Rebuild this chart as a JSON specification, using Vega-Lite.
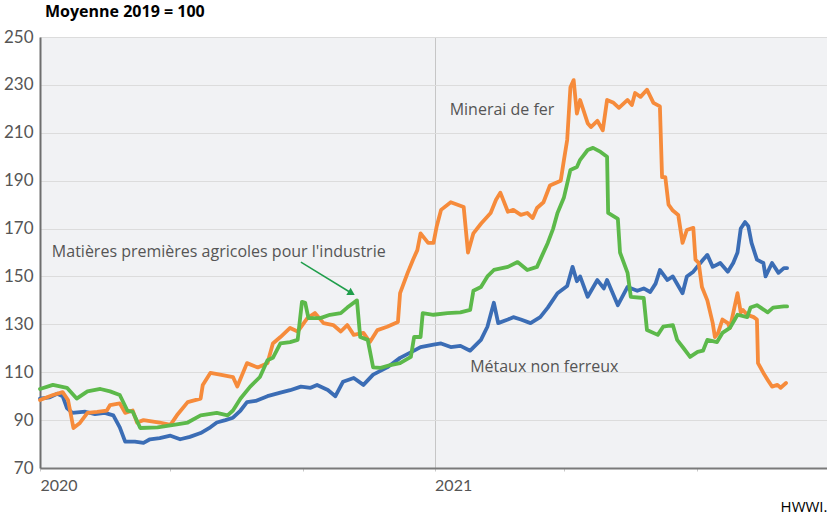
{
  "$schema": "https://vega.github.io/schema/vega-lite/v6.json",
  "width": 787,
  "height": 431,
  "autosize": "none",
  "padding": {"left": 40, "top": 37, "right": 0, "bottom": 50},
  "title": {"text": "Moyenne 2019 = 100", "anchor": "start", "frame": "group", "dx": 5, "offset": 8, "fontSize": 16, "fontWeight": "bold", "color": "#000", "font": "Open Sans"},
  "config": {"view": {"fill": "#f1f2f4", "stroke": null}, "font": "Lato"},
  "encoding": {
    "x": {"field": "d", "type": "temporal",
      "scale": {"type": "utc", "domain": [{"year": 2020, "month": 1, "date": 1, "utc": true}, {"year": 2021, "month": 12, "date": 31, "utc": true}]},
      "axis": {"title": "HWWI.", "titleAnchor": "end", "titleFont": "Open Sans", "titleFontSize": 15, "titleFontWeight": "normal", "titleColor": "#000", "titlePadding": 6,
        "tickCount": {"interval": "month", "step": 4},
        "labelExpr": "utcmonth(datum.value) == 0 ? utcFormat(datum.value, '%Y') : ''",
        "labelAlign": "left", "labelFontSize": 16, "labelColor": "#555", "labelPadding": 6, "labelFlush": false,
        "domainColor": "#7a7a7a", "domainWidth": 2, "tickSize": 3, "tickColor": "#c8c8c8",
        "grid": true, "gridColor": "#c6c6c6", "gridWidth": 1,
        "gridOpacity": {"condition": {"test": "utcmonth(datum.value) == 0", "value": 1}, "value": 0}}},
    "y": {"field": "v", "type": "quantitative",
      "scale": {"domain": [70, 250], "nice": false, "zero": false},
      "axis": {"title": null, "values": [70, 90, 110, 130, 150, 170, 190, 210, 230, 250], "labelFontSize": 17, "labelColor": "#555", "labelPadding": 7,
        "ticks": false, "domainColor": "#6e6e6e", "domainWidth": 2, "gridColor": "#dcdcdc", "gridWidth": 1}}
  },
  "layer": [
    {
      "data": {"values": [
        {"d":"2020-01-01","s":"M","v":99},{"d":"2020-01-10","s":"M","v":99.5},{"d":"2020-01-17","s":"M","v":101},{"d":"2020-01-22","s":"M","v":100},{"d":"2020-01-26","s":"M","v":95},{"d":"2020-01-31","s":"M","v":93},{"d":"2020-02-12","s":"M","v":93.5},{"d":"2020-02-21","s":"M","v":92.5},{"d":"2020-03-01","s":"M","v":93},{"d":"2020-03-09","s":"M","v":92},{"d":"2020-03-15","s":"M","v":87},{"d":"2020-03-20","s":"M","v":81},{"d":"2020-03-29","s":"M","v":81},{"d":"2020-04-06","s":"M","v":80.5},{"d":"2020-04-12","s":"M","v":82},{"d":"2020-04-21","s":"M","v":82.5},{"d":"2020-05-01","s":"M","v":83.5},{"d":"2020-05-10","s":"M","v":82},{"d":"2020-05-19","s":"M","v":83},{"d":"2020-05-29","s":"M","v":84.6},{"d":"2020-06-07","s":"M","v":87},{"d":"2020-06-13","s":"M","v":89},{"d":"2020-06-21","s":"M","v":90},{"d":"2020-06-28","s":"M","v":91},{"d":"2020-07-05","s":"M","v":94},{"d":"2020-07-11","s":"M","v":97.5},{"d":"2020-07-19","s":"M","v":98},{"d":"2020-07-30","s":"M","v":100},{"d":"2020-08-11","s":"M","v":101.5},{"d":"2020-08-20","s":"M","v":102.5},{"d":"2020-08-30","s":"M","v":104},{"d":"2020-09-08","s":"M","v":103.5},{"d":"2020-09-14","s":"M","v":104.7},{"d":"2020-09-24","s":"M","v":102.6},{"d":"2020-10-01","s":"M","v":100},{"d":"2020-10-08","s":"M","v":106},{"d":"2020-10-18","s":"M","v":107.6},{"d":"2020-10-27","s":"M","v":104.7},{"d":"2020-11-05","s":"M","v":109},{"d":"2020-11-18","s":"M","v":112},{"d":"2020-11-30","s":"M","v":116},{"d":"2020-12-13","s":"M","v":119},{"d":"2020-12-19","s":"M","v":120.5},{"d":"2020-12-31","s":"M","v":121.5},{"d":"2021-01-07","s":"M","v":122},{"d":"2021-01-16","s":"M","v":120.5},{"d":"2021-01-25","s":"M","v":121},{"d":"2021-02-03","s":"M","v":119},{"d":"2021-02-13","s":"M","v":123.5},{"d":"2021-02-19","s":"M","v":129},{"d":"2021-02-25","s":"M","v":139},{"d":"2021-03-01","s":"M","v":130.5},{"d":"2021-03-10","s":"M","v":132},{"d":"2021-03-15","s":"M","v":133},{"d":"2021-03-22","s":"M","v":132},{"d":"2021-03-31","s":"M","v":130.5},{"d":"2021-04-09","s":"M","v":133},{"d":"2021-04-16","s":"M","v":137},{"d":"2021-04-25","s":"M","v":143},{"d":"2021-05-04","s":"M","v":146},{"d":"2021-05-09","s":"M","v":154},{"d":"2021-05-13","s":"M","v":148},{"d":"2021-05-16","s":"M","v":150},{"d":"2021-05-23","s":"M","v":141.5},{"d":"2021-06-01","s":"M","v":148.5},{"d":"2021-06-07","s":"M","v":145},{"d":"2021-06-10","s":"M","v":148.5},{"d":"2021-06-20","s":"M","v":138},{"d":"2021-06-29","s":"M","v":145.6},{"d":"2021-07-08","s":"M","v":144},{"d":"2021-07-14","s":"M","v":145},{"d":"2021-07-20","s":"M","v":143.5},{"d":"2021-07-25","s":"M","v":147},{"d":"2021-07-29","s":"M","v":152.7},{"d":"2021-08-05","s":"M","v":148.5},{"d":"2021-08-10","s":"M","v":150},{"d":"2021-08-19","s":"M","v":143},{"d":"2021-08-23","s":"M","v":150},{"d":"2021-08-29","s":"M","v":152},{"d":"2021-09-07","s":"M","v":157},{"d":"2021-09-11","s":"M","v":159},{"d":"2021-09-16","s":"M","v":154},{"d":"2021-09-23","s":"M","v":155.6},{"d":"2021-09-30","s":"M","v":152},{"d":"2021-10-05","s":"M","v":155.6},{"d":"2021-10-09","s":"M","v":160},{"d":"2021-10-12","s":"M","v":170},{"d":"2021-10-16","s":"M","v":172.7},{"d":"2021-10-19","s":"M","v":171},{"d":"2021-10-22","s":"M","v":164},{"d":"2021-10-27","s":"M","v":157},{"d":"2021-11-02","s":"M","v":155.6},{"d":"2021-11-04","s":"M","v":150},{"d":"2021-11-10","s":"M","v":155.6},{"d":"2021-11-16","s":"M","v":151.5},{"d":"2021-11-21","s":"M","v":153.5},{"d":"2021-11-24","s":"M","v":153.5},
        {"d":"2020-01-01","s":"F","v":98.4},{"d":"2020-01-13","s":"F","v":100.5},{"d":"2020-01-22","s":"F","v":101.7},{"d":"2020-01-27","s":"F","v":98.4},{"d":"2020-02-01","s":"F","v":86.7},{"d":"2020-02-07","s":"F","v":88.8},{"d":"2020-02-14","s":"F","v":93},{"d":"2020-02-23","s":"F","v":93.4},{"d":"2020-03-03","s":"F","v":94},{"d":"2020-03-06","s":"F","v":96.3},{"d":"2020-03-15","s":"F","v":97},{"d":"2020-03-20","s":"F","v":93},{"d":"2020-03-27","s":"F","v":94},{"d":"2020-03-31","s":"F","v":89},{"d":"2020-04-06","s":"F","v":90},{"d":"2020-04-21","s":"F","v":89},{"d":"2020-05-01","s":"F","v":88},{"d":"2020-05-07","s":"F","v":92},{"d":"2020-05-17","s":"F","v":97.5},{"d":"2020-05-29","s":"F","v":99},{"d":"2020-05-31","s":"F","v":104.7},{"d":"2020-06-07","s":"F","v":109.7},{"d":"2020-06-16","s":"F","v":109},{"d":"2020-06-28","s":"F","v":108},{"d":"2020-07-02","s":"F","v":104},{"d":"2020-07-11","s":"F","v":113.8},{"d":"2020-07-21","s":"F","v":112},{"d":"2020-07-30","s":"F","v":113.8},{"d":"2020-08-04","s":"F","v":122},{"d":"2020-08-11","s":"F","v":124.7},{"d":"2020-08-20","s":"F","v":128.5},{"d":"2020-08-27","s":"F","v":127},{"d":"2020-09-05","s":"F","v":132.6},{"d":"2020-09-12","s":"F","v":134.7},{"d":"2020-09-20","s":"F","v":130.5},{"d":"2020-09-29","s":"F","v":129.7},{"d":"2020-10-06","s":"F","v":127},{"d":"2020-10-12","s":"F","v":129.7},{"d":"2020-10-18","s":"F","v":125.6},{"d":"2020-10-27","s":"F","v":126.4},{"d":"2020-11-02","s":"F","v":122.6},{"d":"2020-11-09","s":"F","v":127.6},{"d":"2020-11-18","s":"F","v":129},{"d":"2020-11-28","s":"F","v":131},{"d":"2020-11-30","s":"F","v":143},{"d":"2020-12-07","s":"F","v":151.5},{"d":"2020-12-12","s":"F","v":157},{"d":"2020-12-16","s":"F","v":161},{"d":"2020-12-19","s":"F","v":168},{"d":"2020-12-26","s":"F","v":164},{"d":"2020-12-31","s":"F","v":164},{"d":"2021-01-03","s":"F","v":171},{"d":"2021-01-07","s":"F","v":177.8},{"d":"2021-01-16","s":"F","v":181},{"d":"2021-01-28","s":"F","v":179},{"d":"2021-02-01","s":"F","v":160},{"d":"2021-02-06","s":"F","v":168},{"d":"2021-02-13","s":"F","v":172},{"d":"2021-02-22","s":"F","v":176.5},{"d":"2021-02-27","s":"F","v":182},{"d":"2021-03-03","s":"F","v":185},{"d":"2021-03-10","s":"F","v":177},{"d":"2021-03-15","s":"F","v":177.8},{"d":"2021-03-22","s":"F","v":175.7},{"d":"2021-03-28","s":"F","v":176.5},{"d":"2021-04-02","s":"F","v":174.4},{"d":"2021-04-06","s":"F","v":178.6},{"d":"2021-04-12","s":"F","v":181},{"d":"2021-04-18","s":"F","v":188},{"d":"2021-04-28","s":"F","v":190},{"d":"2021-05-01","s":"F","v":198.7},{"d":"2021-05-04","s":"F","v":207},{"d":"2021-05-07","s":"F","v":229},{"d":"2021-05-10","s":"F","v":232},{"d":"2021-05-13","s":"F","v":218},{"d":"2021-05-16","s":"F","v":223.7},{"d":"2021-05-23","s":"F","v":214},{"d":"2021-05-26","s":"F","v":212.4},{"d":"2021-06-01","s":"F","v":215},{"d":"2021-06-06","s":"F","v":211},{"d":"2021-06-10","s":"F","v":223.7},{"d":"2021-06-16","s":"F","v":222.5},{"d":"2021-06-21","s":"F","v":220.4},{"d":"2021-06-29","s":"F","v":223.7},{"d":"2021-07-03","s":"F","v":221.6},{"d":"2021-07-06","s":"F","v":226.6},{"d":"2021-07-11","s":"F","v":225},{"d":"2021-07-17","s":"F","v":228},{"d":"2021-07-23","s":"F","v":222.5},{"d":"2021-07-29","s":"F","v":221},{"d":"2021-07-31","s":"F","v":191.5},{"d":"2021-08-03","s":"F","v":191.5},{"d":"2021-08-06","s":"F","v":180},{"d":"2021-08-10","s":"F","v":177.5},{"d":"2021-08-15","s":"F","v":175.7},{"d":"2021-08-19","s":"F","v":164},{"d":"2021-08-23","s":"F","v":169.4},{"d":"2021-08-29","s":"F","v":170.3},{"d":"2021-08-31","s":"F","v":157},{"d":"2021-09-03","s":"F","v":155.6},{"d":"2021-09-06","s":"F","v":145.6},{"d":"2021-09-11","s":"F","v":140},{"d":"2021-09-16","s":"F","v":130.5},{"d":"2021-09-18","s":"F","v":124.7},{"d":"2021-09-21","s":"F","v":126.4},{"d":"2021-09-25","s":"F","v":132},{"d":"2021-09-30","s":"F","v":130.5},{"d":"2021-10-02","s":"F","v":128.5},{"d":"2021-10-05","s":"F","v":134.7},{"d":"2021-10-09","s":"F","v":143},{"d":"2021-10-12","s":"F","v":135},{"d":"2021-10-14","s":"F","v":136},{"d":"2021-10-18","s":"F","v":134},{"d":"2021-10-24","s":"F","v":133},{"d":"2021-10-27","s":"F","v":132},{"d":"2021-10-28","s":"F","v":113.8},{"d":"2021-11-02","s":"F","v":109.7},{"d":"2021-11-06","s":"F","v":106.8},{"d":"2021-11-10","s":"F","v":104},{"d":"2021-11-15","s":"F","v":104.7},{"d":"2021-11-18","s":"F","v":103.5},{"d":"2021-11-23","s":"F","v":105.5},
        {"d":"2020-01-01","s":"A","v":103},{"d":"2020-01-13","s":"A","v":104.7},{"d":"2020-01-26","s":"A","v":103.5},{"d":"2020-02-04","s":"A","v":99},{"d":"2020-02-14","s":"A","v":102},{"d":"2020-02-26","s":"A","v":103},{"d":"2020-03-06","s":"A","v":102},{"d":"2020-03-15","s":"A","v":100.5},{"d":"2020-03-22","s":"A","v":94},{"d":"2020-03-27","s":"A","v":93.5},{"d":"2020-04-03","s":"A","v":86.7},{"d":"2020-04-19","s":"A","v":87},{"d":"2020-05-04","s":"A","v":88},{"d":"2020-05-17","s":"A","v":89},{"d":"2020-05-29","s":"A","v":92},{"d":"2020-06-13","s":"A","v":93},{"d":"2020-06-23","s":"A","v":92},{"d":"2020-06-28","s":"A","v":94},{"d":"2020-07-05","s":"A","v":99},{"d":"2020-07-14","s":"A","v":104},{"d":"2020-07-23","s":"A","v":108},{"d":"2020-07-30","s":"A","v":115},{"d":"2020-08-04","s":"A","v":116},{"d":"2020-08-11","s":"A","v":122},{"d":"2020-08-20","s":"A","v":122.6},{"d":"2020-08-27","s":"A","v":123.5},{"d":"2020-08-31","s":"A","v":139.4},{"d":"2020-09-03","s":"A","v":139},{"d":"2020-09-06","s":"A","v":132.6},{"d":"2020-09-17","s":"A","v":132.6},{"d":"2020-09-26","s":"A","v":134},{"d":"2020-10-06","s":"A","v":134.7},{"d":"2020-10-12","s":"A","v":137},{"d":"2020-10-21","s":"A","v":140},{"d":"2020-10-24","s":"A","v":124.7},{"d":"2020-10-31","s":"A","v":123.5},{"d":"2020-11-05","s":"A","v":112},{"d":"2020-11-12","s":"A","v":111.8},{"d":"2020-11-21","s":"A","v":113},{"d":"2020-11-30","s":"A","v":113.8},{"d":"2020-12-10","s":"A","v":116.4},{"d":"2020-12-13","s":"A","v":124.7},{"d":"2020-12-19","s":"A","v":124.7},{"d":"2020-12-21","s":"A","v":134.7},{"d":"2020-12-31","s":"A","v":134},{"d":"2021-01-13","s":"A","v":134.7},{"d":"2021-01-25","s":"A","v":135},{"d":"2021-02-03","s":"A","v":136},{"d":"2021-02-06","s":"A","v":144},{"d":"2021-02-13","s":"A","v":145.6},{"d":"2021-02-19","s":"A","v":150},{"d":"2021-02-25","s":"A","v":152.7},{"d":"2021-03-10","s":"A","v":154},{"d":"2021-03-19","s":"A","v":156},{"d":"2021-03-28","s":"A","v":152.7},{"d":"2021-04-06","s":"A","v":154},{"d":"2021-04-11","s":"A","v":159},{"d":"2021-04-16","s":"A","v":164},{"d":"2021-04-21","s":"A","v":170},{"d":"2021-04-25","s":"A","v":176.5},{"d":"2021-05-01","s":"A","v":183},{"d":"2021-05-07","s":"A","v":194.5},{"d":"2021-05-13","s":"A","v":195.7},{"d":"2021-05-16","s":"A","v":198.7},{"d":"2021-05-23","s":"A","v":202.8},{"d":"2021-05-28","s":"A","v":203.7},{"d":"2021-06-04","s":"A","v":202},{"d":"2021-06-10","s":"A","v":200},{"d":"2021-06-11","s":"A","v":176.5},{"d":"2021-06-20","s":"A","v":174},{"d":"2021-06-22","s":"A","v":160},{"d":"2021-06-29","s":"A","v":151.5},{"d":"2021-07-02","s":"A","v":141.5},{"d":"2021-07-14","s":"A","v":141},{"d":"2021-07-17","s":"A","v":127.6},{"d":"2021-07-27","s":"A","v":125.6},{"d":"2021-08-01","s":"A","v":129},{"d":"2021-08-10","s":"A","v":129.7},{"d":"2021-08-14","s":"A","v":123.5},{"d":"2021-08-20","s":"A","v":120},{"d":"2021-08-26","s":"A","v":116.4},{"d":"2021-09-02","s":"A","v":118.5},{"d":"2021-09-07","s":"A","v":119},{"d":"2021-09-11","s":"A","v":123.5},{"d":"2021-09-20","s":"A","v":122.6},{"d":"2021-09-25","s":"A","v":126.4},{"d":"2021-10-02","s":"A","v":128.5},{"d":"2021-10-09","s":"A","v":134},{"d":"2021-10-18","s":"A","v":133},{"d":"2021-10-21","s":"A","v":137},{"d":"2021-10-27","s":"A","v":138},{"d":"2021-11-06","s":"A","v":135},{"d":"2021-11-11","s":"A","v":137},{"d":"2021-11-21","s":"A","v":137.5},{"d":"2021-11-24","s":"A","v":137.5}
      ]},
      "mark": {"type": "line", "strokeWidth": 3.8, "strokeJoin": "round", "strokeCap": "round"},
      "encoding": {
        "color": {"field": "s", "type": "nominal", "scale": {"domain": ["M", "F", "A"], "range": ["#3b6db5", "#f68b3b", "#5cb94a"]}, "legend": null}
      }
    },
    {
      "data": {"values": [
        {"d": "2021-01-15", "v": 219.5, "label": "Minerai de fer"},
        {"d": "2021-02-03", "v": 112.2, "label": "Métaux non ferreux"},
        {"d": "2020-01-12", "v": 160.2, "label": "Matières premières agricoles pour l'industrie"}
      ]},
      "mark": {"type": "text", "align": "left", "baseline": "middle", "fontSize": 16, "color": "#555", "font": "Open Sans"},
      "encoding": {"text": {"field": "label", "type": "nominal"}}
    },
    {
      "data": {"values": [{"d": "2020-08-30", "v": 156}, {"d": "2020-10-15", "v": 143.3}]},
      "mark": {"type": "line", "color": "#1f9e4b", "strokeWidth": 1.5},
      "encoding": {}
    },
    {
      "data": {"values": [{"d": "2020-10-16", "v": 143}]},
      "mark": {"type": "point", "shape": "triangle-right", "filled": true, "color": "#1f9e4b", "size": 70, "angle": 31, "opacity": 1},
      "encoding": {}
    }
  ]
}
